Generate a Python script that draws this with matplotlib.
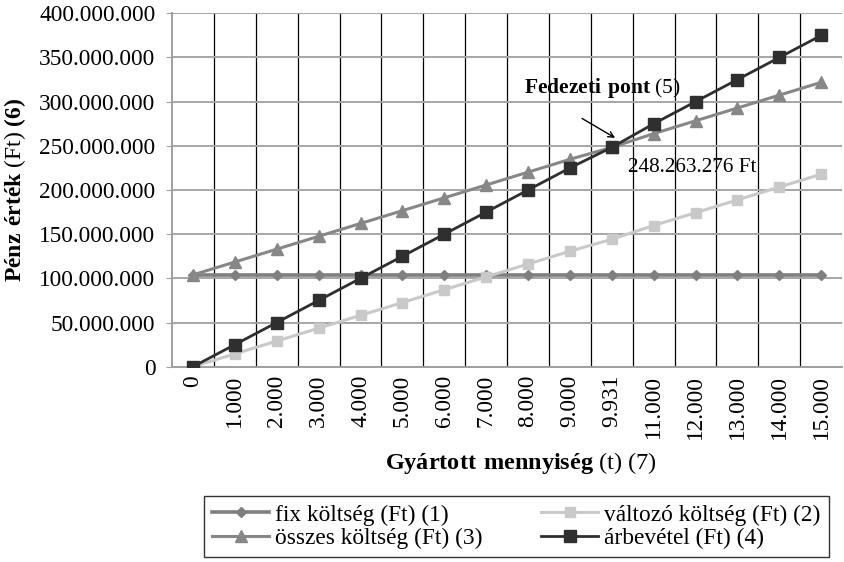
"""
Fedezeti pont diagram: fix és változó költség, összes költség és árbevétel
a gyártott mennyiség függvényében.
"""

import matplotlib.pyplot as plt
import matplotlib.ticker as mticker
import numpy as np

plt.rcParams['font.family'] = ['Liberation Serif', 'DejaVu Serif']
plt.rcParams['mathtext.fontset'] = 'custom'
plt.rcParams['mathtext.rm'] = 'Liberation Serif'
plt.rcParams['mathtext.bf'] = 'Liberation Serif:bold'

# gyártott mennyiség (t) - kategóriák
mennyiseg = ['0', '1.000', '2.000', '3.000', '4.000', '5.000', '6.000',
             '7.000', '8.000', '9.000', '9.931', '11.000', '12.000',
             '13.000', '14.000', '15.000']

fix_koltseg = [104000000] * 16
valtozo_koltseg = [0, 14526000, 29052000, 43578000, 58104000, 72630000,
                   87156000, 101682000, 116208000, 130734000, 144263276,
                   159786000, 174312000, 188838000, 203364000, 217890000]
osszes_koltseg = [104000000, 118526000, 133052000, 147578000, 162104000,
                  176630000, 191156000, 205682000, 220208000, 234734000,
                  248263276, 263786000, 278312000, 292838000, 307364000,
                  321890000]
arbevetel = [0, 25000000, 50000000, 75000000, 100000000, 125000000,
             150000000, 175000000, 200000000, 225000000, 248263276,
             275000000, 300000000, 325000000, 350000000, 375000000]

fedezeti_idx = 10


def ezres(x, pos):
    return '{:,.0f}'.format(x).replace(',', '.')


fig = plt.figure(figsize=(8.45, 5.62), dpi=100)
ax = fig.add_axes([0.2036, 0.3475, 0.7930, 0.6288])

x = np.arange(len(mennyiseg))

l_fix, = ax.plot(x, fix_koltseg, color='#7f7f7f', lw=2.6, marker='D',
                 ms=5.5, label='fix költség (Ft) (1)', zorder=3)
l_valt, = ax.plot(x, valtozo_koltseg, color='#c9c9c9', lw=2.2, marker='s',
                  ms=7.5, label='változó költség (Ft) (2)', zorder=3)
l_ossz, = ax.plot(x, osszes_koltseg, color='#878787', lw=2.2, marker='^',
                  ms=8, label='összes költség (Ft) (3)', zorder=3)
l_arb, = ax.plot(x, arbevetel, color='#2f2f2f', lw=2.0, marker='s', ms=8,
                 label='árbevétel (Ft) (4)', zorder=4)

ax.set_xlim(-0.5, len(mennyiseg) - 0.5)
ax.set_ylim(0, 400000000)
ax.yaxis.set_major_locator(mticker.MultipleLocator(50000000))
ax.yaxis.set_major_formatter(mticker.FuncFormatter(ezres))
ax.set_xticks(x)
ax.set_xticklabels(mennyiseg, rotation=90, fontsize=16.8)
ax.tick_params(axis='y', labelsize=16.8, length=4, color='#a0a0a0', pad=8)
ax.tick_params(axis='x', length=0, pad=6)

# rácsvonalak: vízszintes szürke, függőleges fekete a kategóriák között
ax.grid(axis='y', color='#a6a6a6', lw=1.4, zorder=0)
for b in np.arange(0.5, len(mennyiseg) - 1, 1.0):
    ax.axvline(b, color='black', lw=0.9, zorder=1)

for side in ['top', 'right']:
    ax.spines[side].set_visible(False)
ax.spines['left'].set_color('#a0a0a0')
ax.spines['bottom'].set_color('#a0a0a0')
ax.spines['left'].set_linewidth(1.4)
ax.spines['bottom'].set_linewidth(1.4)

ax.set_ylabel(r'$\mathbf{Pénz\ érték}$ (Ft) $\mathbf{(6)}$', fontsize=17,
              labelpad=8)
ax.set_xlabel(r'$\mathbf{Gyártott\ mennyiség}$ (t) (7)', fontsize=17.5)
ax.xaxis.set_label_coords(0.52, -0.235)

# fedezeti pont jelölése
ax.text(9.77, 316000000, r'$\mathbf{Fedezeti\ pont}$ (5)', fontsize=15.5,
        ha='center', va='center')
ax.annotate('', xy=(10.08, 259000000), xytext=(9.29, 281000000),
            arrowprops=dict(arrowstyle='->', color='black', lw=1.0,
                            shrinkA=0, shrinkB=0))
ax.text(10.39, 226000000, ezres(arbevetel[fedezeti_idx], None) + ' Ft',
        fontsize=15.3, ha='left', va='center')

# oszloponként töltődik: fix/összes, majd változó/árbevétel
leg = fig.legend([l_fix, l_ossz, l_valt, l_arb],
                 [l_fix.get_label(), l_ossz.get_label(),
                  l_valt.get_label(), l_arb.get_label()],
                 loc='upper left', bbox_to_anchor=(0.2414, 0.1174), ncol=2,
                 fontsize=16.8, frameon=True, fancybox=False,
                 edgecolor='black', borderpad=0.35, handlelength=2.45,
                 handletextpad=0.25, columnspacing=2.5, labelspacing=0.08,
                 borderaxespad=0)
leg.get_frame().set_linewidth(1.0)

fig.savefig('out.png', dpi=100)
